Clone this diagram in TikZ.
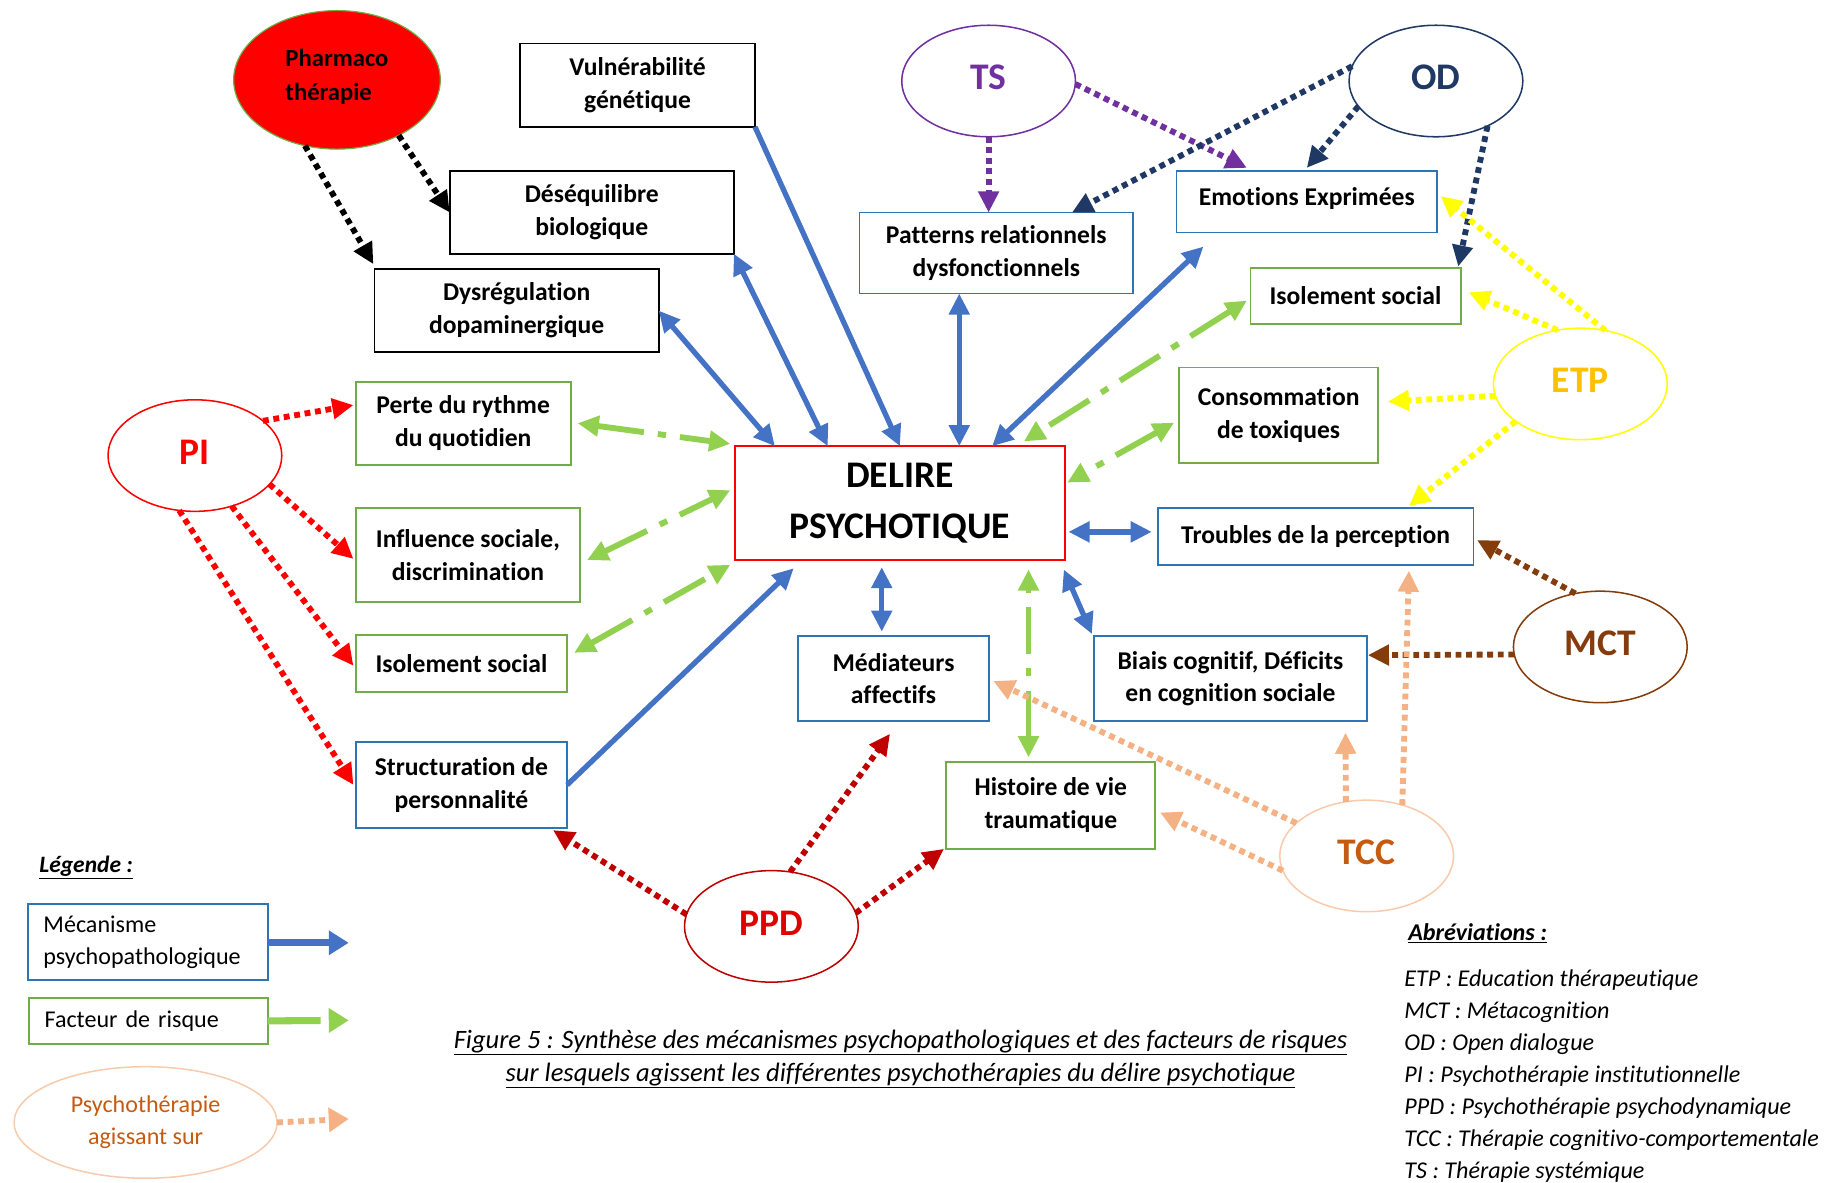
\documentclass[tikz,border=0pt]{standalone}
\usepackage{fontspec}
\setmainfont{Carlito}[Ligatures={NoCommon,NoRare,NoContextual},Contextuals={NoAlternate}]
\usetikzlibrary{arrows.meta,shapes.geometric,calc}
\definecolor{arrblue}{HTML}{4472C4}
\definecolor{boxblue}{HTML}{2E75B6}
\definecolor{boxgreen}{HTML}{70AD47}
\definecolor{arrgreen}{HTML}{92D050}
\definecolor{tspurple}{HTML}{7030A0}
\definecolor{odnavy}{HTML}{1F3864}
\definecolor{etpyel}{HTML}{FFFF00}
\definecolor{etptext}{HTML}{FFC000}
\definecolor{mctbrown}{HTML}{843C0C}
\definecolor{tccborder}{HTML}{F8CBAD}
\definecolor{tccarrow}{HTML}{F4B183}
\definecolor{tcctext}{HTML}{C55A11}
\definecolor{ppdred}{HTML}{C00000}
\definecolor{ppdtext}{HTML}{E00000}
\definecolor{pired}{HTML}{FF0000}
\begin{document}
\begin{tikzpicture}[x=1pt,y=-1pt,
  bx/.style={draw, line width=1.6pt, inner sep=0pt, outer sep=0pt, align=center,
    font=\bfseries\fontsize{21.8}{28}\selectfont},
  bxk/.style={bx, draw=black},
  bxb/.style={bx, draw=boxblue},
  bxg/.style={bx, draw=boxgreen},
  circ/.style={ellipse, draw, line width=1.3pt, inner sep=0pt, outer sep=0pt,
    minimum width=148, minimum height=95, font=\bfseries\fontsize{32}{36}\selectfont},
  tip/.style={-{Triangle[length=18pt,width=17pt]}},
  dtip/.style={{Triangle[length=18pt,width=17pt]}-{Triangle[length=18pt,width=17pt]}},
  blu/.style={draw=arrblue, line width=4.5pt},
  grn/.style={draw=arrgreen, line width=5pt, dash pattern=on 40pt off 12pt on 7pt off 12pt, dtip},
  dotarr/.style={line width=5pt, dash pattern=on 5pt off 4pt, tip},
]
\useasboundingbox (0,0) rectangle (1568,1007);

% ---- ellipses (therapies)
\node[ellipse, draw=boxgreen, fill=pired, line width=1pt, inner sep=0pt, outer sep=0pt,
  minimum width=176, minimum height=118, align=left, text depth=8pt,
  font=\bfseries\fontsize{21}{29}\selectfont] (pha) at (287,68) {Pharmaco\\thérapie};
\node[circ, draw=tspurple, text=tspurple, text depth=6pt] (ts) at (842,69) {TS};
\node[circ, draw=odnavy, text=odnavy, text depth=6pt] (od) at (1223,69) {OD};
\node[circ, draw=etpyel, text=etptext, text depth=6pt] (etp) at (1346,327) {ETP};
\node[circ, draw=pired, text=pired, text depth=6pt] (pi) at (166,388) {PI};
\node[circ, draw=mctbrown, text=mctbrown, text depth=6pt] (mct) at (1363,551) {MCT};
\node[circ, draw=tccborder, text=tcctext, text depth=6pt] (tcc) at (1164,729) {TCC};
\node[circ, draw=ppdred, text=ppdtext, text depth=6pt] (ppd) at (657,789) {PPD};

% ---- boxes
\node[bxk, minimum width=200, minimum height=71] (vul) at (543,72.5) {Vulnérabilité\\génétique};
\node[bxk, minimum width=242, minimum height=70] (des) at (504,181) {Déséquilibre\\biologique};
\node[bxk, minimum width=242, minimum height=71] (dys) at (440,264.5) {Dysrégulation\\dopaminergique};
\node[bxb, minimum width=233, minimum height=69] (pat) at (848.5,215.5) {Patterns relationnels\\dysfonctionnels};
\node[bxb, minimum width=222, minimum height=52, text depth=10pt] (emo) at (1113,172) {Emotions Exprimées};
\node[bxg, minimum width=179, minimum height=48] (isr) at (1154.5,252) {Isolement social};
\node[bxg, minimum width=170, minimum height=81] (con) at (1089,353.5) {Consommation\\de toxiques};
\node[bxb, minimum width=269, minimum height=48] (tro) at (1120.5,457) {Troubles de la perception};
\node[bxb, minimum width=232, minimum height=72] (bia) at (1048,578) {Biais cognitif, Déficits\\en cognition sociale};
\node[bxg, minimum width=178, minimum height=74] (his) at (895,686) {Histoire de vie\\traumatique};
\node[bxb, minimum width=162, minimum height=72] (med) at (761,578) {Médiateurs\\affectifs};
\node[bx, draw=pired, minimum width=281, minimum height=97,
  font=\bfseries\fontsize{32}{43}\selectfont] (del) at (766.5,428.5) {DELIRE\\PSYCHOTIQUE};
\node[bxg, minimum width=183, minimum height=71] (per) at (394.5,360.5) {Perte du rythme\\du quotidien};
\node[bxg, minimum width=191, minimum height=80] (inf) at (398.5,473) {Influence sociale,\\discrimination};
\node[bxg, minimum width=180, minimum height=48] (isl) at (393,565) {Isolement social};
\node[bxb, minimum width=180, minimum height=73] (str) at (393,668.5) {Structuration de\\personnalité};

% ---- blue mechanisms
\draw[blu, tip] (vul.south east) -- (del.north);
\draw[blu, dtip] (des.south east) -- ($(del.north west)+(79,0)$);
\draw[blu, dtip] (dys.east) -- ($(del.north west)+(34,0)$);
\draw[blu, dtip] ($(pat.south west)+(85,0)$) -- ($(del.north west)+(191,0)$);
\draw[blu, dtip] ($(emo.south west)+(23,12)$) -- ($(del.north west)+(219,0)$);
\draw[blu, dtip] ($(del.south east)+(3,-24)$) -- ($(tro.west)+(-5,-4)$);
\draw[blu, dtip] ($(del.south west)+(125,6)$) -- ($(med.north west)+(71,-4)$);
\draw[blu, dtip] ($(del.south east)+(-1,8)$) -- ($(bia.north west)+(-2,-2)$);
\draw[blu, tip] (str.east) -- ($(del.south west)+(50,7)$);

% ---- green risk factors
\draw[grn] ($(per.east)+(6,0)$) -- ($(del.north west)+(-4,-2)$);
\draw[grn] ($(inf.east)+(6,4)$) -- ($(del.west)+(-4,-11)$);
\draw[grn] ($(isl.east)+(6,-9)$) -- ($(del.south west)+(-4,4)$);
\draw[grn] ($(isr.west)+(-3,4)$) -- ($(del.north east)+(-35,-4)$);
\draw[grn] ($(con.west)+(-4,6.5)$) -- ($(del.east)+(2,-17.5)$);
\draw[grn] ($(his.north west)+(70,-4)$) -- ($(del.south east)+(-31,8)$);

% ---- therapies acting on
\draw[dotarr, draw=black] (pha.244) -- ($(dys.north west)+(-1,-4)$);
\draw[dotarr, draw=black] (pha.318) -- (des.west);
\draw[dotarr, draw=tspurple] (ts.south) -- ($(pat.north west)+(110,0)$);
\draw[dotarr, draw=tspurple] (ts.358) -- ($(emo.north west)+(60,-3)$);
\draw[dotarr, draw=odnavy] (od.170) -- ($(pat.north east)+(-52,0)$);
\draw[dotarr, draw=odnavy] (od.198) -- ($(emo.north west)+(111,-3)$);
\draw[dotarr, draw=odnavy] (od.319) -- ($(isr.north east)+(-2,-1)$);
\draw[dotarr, draw=etpyel] (etp.65) -- ($(emo.east)+(3,-5)$);
\draw[dotarr, draw=etpyel] (etp.113) -- ($(isr.east)+(7,-3)$);
\draw[dotarr, draw=etpyel] (etp.188) -- ($(con.east)+(8,-11.5)$);
\draw[dotarr, draw=etpyel] (etp.210) -- ($(tro.north west)+(214,-2)$);
\draw[dotarr, draw=mctbrown] (mct.115) -- ($(tro.east)+(3,3)$);
\draw[dotarr, draw=mctbrown] (mct.185) -- ($(bia.east)+(1,-20)$);
\draw[dotarr, draw=tccarrow] (tcc.155) -- ($(med.east)+(4,2)$);
\draw[dotarr, draw=tccarrow] (tcc.190) -- ($(his.east)+(4,6)$);
\draw[dotarr, draw=tccarrow] (tcc.111) -- ($(bia.south west)+(214,10)$);
\draw[dotarr, draw=tccarrow] (tcc.55) -- ($(tro.south west)+(214,5)$);
\draw[dotarr, draw=pired] (pi.27) -- ($(per.west)+(-2,-15.5)$);
\draw[dotarr, draw=pired] (pi.339) -- ($(inf.west)+(-2,3)$);
\draw[dotarr, draw=pired] (pi.306) -- ($(isl.west)+(-2,2)$);
\draw[dotarr, draw=pired] (pi.254) -- ($(str.west)+(-2,0)$);
\draw[dotarr, draw=ppdred] (ppd.172) -- ($(str.south east)+(-12,2)$);
\draw[dotarr, draw=ppdred] (ppd.71) -- ($(med.south west)+(78,11)$);
\draw[dotarr, draw=ppdred] (ppd.9) -- ($(his.south west)+(-2,0)$);

% ---- legend
\node[anchor=west, font=\bfseries\itshape\fontsize{20}{24}\selectfont] (leg) at (30,739) {\underline{Légende :}};
\node[draw=boxblue, line width=1.6pt, inner sep=0pt, inner xsep=13pt, outer sep=0pt,
  text width=178, minimum height=65, align=left, font=\fontsize{20.5}{27}\selectfont]
  (lg1) at (126,802.5) {Mécanisme\\psychopathologique};
\node[draw=boxgreen, line width=1.6pt, inner sep=0pt, inner xsep=13pt, outer sep=0pt,
  text width=177, minimum height=39, align=left, font=\fontsize{20.5}{27}\selectfont]
  (lg2) at (126.5,869.5) {Facteur de risque};
\node[ellipse, draw=tccborder, line width=1.3pt, inner sep=0pt, outer sep=0pt,
  minimum width=224, minimum height=95, text=tcctext, align=center,
  font=\fontsize{20.5}{27}\selectfont] (lg3) at (124,956) {Psychothérapie\\agissant sur};
\coordinate (lg1e) at (297,803);
\coordinate (lg2e) at (297,869);
\coordinate (lg3e) at (297,953);
\draw[draw=arrblue, line width=6pt, -{Triangle[length=17pt,width=20pt]}] ($(lg1.east)+(0,0.5)$) -- (lg1e);
\draw[draw=arrgreen, line width=6pt, dash pattern=on 45pt off 20pt, -{Triangle[length=17pt,width=20pt]}] (lg2.east) -- (lg2e);
\draw[draw=tccarrow, line width=5pt, dash pattern=on 5pt off 4pt, -{Triangle[length=17pt,width=20pt]}] (lg3.east) -- (lg3e);

% ---- caption
\node[align=center, font=\itshape\fontsize{22.6}{28}\selectfont] (cap) at (767,902)
  {\underline{Figure 5 : Synthèse des mécanismes psychopathologiques et des facteurs de risques}\\
   \underline{sur lesquels agissent les différentes psychothérapies du délire psychotique}};

% ---- abbreviations
\node[anchor=west, font=\bfseries\itshape\fontsize{20.5}{24}\selectfont] (abt) at (1196,795) {\underline{Abréviations :}};
\node[anchor=north west, inner sep=0pt, align=left, font=\itshape\fontsize{20.5}{27.2}\selectfont] (abl) at (1196,826)
  {ETP : Education thérapeutique\\
   MCT : Métacognition\\
   OD : Open dialogue\\
   PI : Psychothérapie institutionnelle\\
   PPD : Psychothérapie psychodynamique\\
   TCC : Thérapie cognitivo-comportementale\\
   TS : Thérapie systémique};
\end{tikzpicture}
\end{document}
